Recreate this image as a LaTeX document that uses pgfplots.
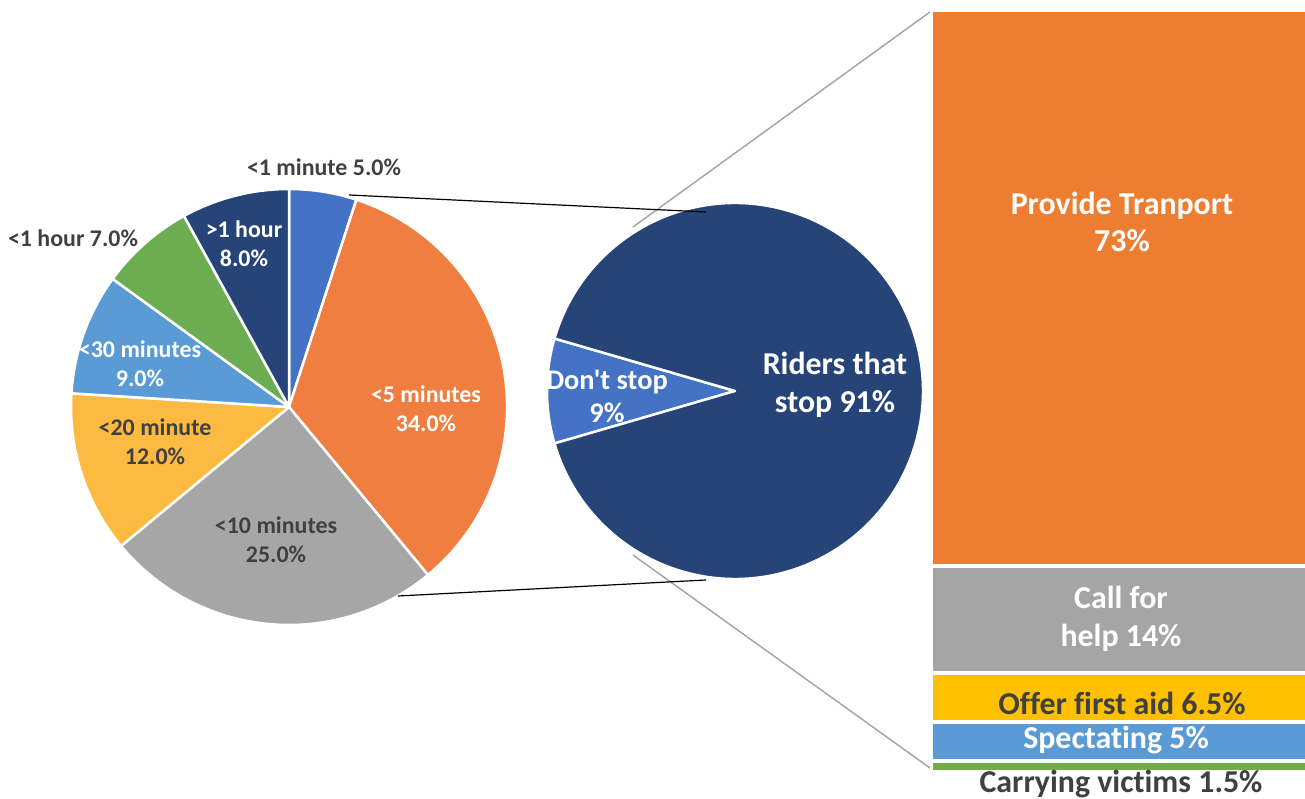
\documentclass[border=0pt]{standalone}
\usepackage{pgfplots}
\usepackage{pgfplotstable}
\pgfplotsset{compat=1.18}
\usepackage{fontspec}
\setmainfont{Carlito}
\newfontfamily\carl{Carlito}[Ligatures=NoCommon]
\definecolor{cBlue}{HTML}{4472C4}
\definecolor{cOrange}{HTML}{F07E40}
\definecolor{cGray}{HTML}{A6A6A6}
\definecolor{cGold}{HTML}{FDBA40}
\definecolor{cLBlue}{HTML}{5A9BD5}
\definecolor{cGreen}{HTML}{6DAD52}
\definecolor{cNavy}{HTML}{264478}
\definecolor{bOrange}{HTML}{ED7D31}
\definecolor{bGray}{HTML}{A5A5A5}
\definecolor{bGold}{HTML}{FFC000}
\definecolor{bGreen}{HTML}{70AD47}
\definecolor{bLBlue}{HTML}{5B9BD5}
\definecolor{txt}{HTML}{404040}
\definecolor{lead}{HTML}{A6A6A6}

% time until help (left pie), clockwise from 12 o'clock
\pgfplotstableread{
value color
5  cBlue
34 cOrange
25 cGray
12 cGold
9  cLBlue
7  cGreen
8  cNavy
}\timetable
% riders (right pie)
\pgfplotstableread{
value color
9  cBlue
91 cNavy
}\stoptable

\newcommand\pie[5]{% table, cx, cy, r, start angle
  \pgfplotstablegetrowsof{#1}%
  \pgfmathtruncatemacro\nrows{\pgfplotsretval-1}%
  \def\cum{0}%
  \pgfplotsforeachungrouped \i in {0,...,\nrows}{%
    \pgfplotstablegetelem{\i}{value}\of#1\let\v\pgfplotsretval
    \pgfplotstablegetelem{\i}{color}\of#1\let\c\pgfplotsretval
    \pgfmathsetmacro\aS{#5-3.6*\cum}%
    \pgfmathsetmacro\aE{#5-3.6*(\cum+\v)}%
    \edef\temp{\noexpand\fill[\c, draw=white, line width=2.5bp, line join=round]
      (axis cs:#2,#3) -- ++(\aS:#4bp) arc[start angle=\aS, end angle=\aE, radius=#4bp] -- cycle;}%
    \temp
    \pgfmathsetmacro\cum{\cum+\v}%
  }%
}

\begin{document}
\begin{tikzpicture}
\path[use as bounding box] (0,0) rectangle (1305bp,799bp);

% stacked bar
\begin{axis}[at={(931bp,27bp)}, anchor=south west,
  width=376bp, height=762bp, scale only axis,
  xmin=-0.5, xmax=0.5, ymin=0, ymax=100, hide axis,
  ybar stacked, bar width=376bp, clip=false]
\addplot[fill=bGreen, draw=white, line width=4bp] coordinates {(0,1.5)};
\addplot[fill=bLBlue, draw=white, line width=4bp] coordinates {(0,5)};
\addplot[fill=bGold, draw=white, line width=4bp] coordinates {(0,6.5)};
\addplot[fill=bGray, draw=white, line width=4bp] coordinates {(0,14)};
\addplot[fill=bOrange, draw=white, line width=4bp] coordinates {(0,73)};
\end{axis}

% pies, leader lines and labels
\begin{axis}[at={(0,0)}, anchor=south west,
  width=1305bp, height=799bp, scale only axis,
  xmin=0, xmax=1305, ymin=0, ymax=799, hide axis, clip=false]
\addplot[lead, line width=1.5bp] coordinates {(633,572) (930,787)};
\addplot[lead, line width=1.5bp] coordinates {(633,244) (930,31)};
\pie{\timetable}{289}{392}{218}{90}
\pie{\stoptable}{735}{408}{188}{196.2}
\addplot[black, line width=1.2bp] coordinates {(349,604) (706,587)};
\addplot[black, line width=1.2bp] coordinates {(398,203) (706,219)};

\tikzset{lbl/.style={font=\carl\bfseries\fontsize{24}{29}\selectfont, align=center, inner sep=0pt},
         big/.style={font=\carl\bfseries\fontsize{32}{38}\selectfont, align=center, inner sep=0pt}}
\node[lbl, txt] at (axis cs:324,632) {<1 minute 5.0\%};
\node[lbl, txt] at (axis cs:73,561) {<1 hour 7.0\%};
\node[lbl, white] at (axis cs:244,555.5) {>1 hour\\8.0\%};
\node[lbl, white] at (axis cs:140,435.5) {<30 minutes\\9.0\%};
\node[lbl, txt] at (axis cs:155,357) {<20 minute\\12.0\%};
\node[lbl, txt] at (axis cs:276,259.5) {<10 minutes\\25.0\%};
\node[lbl, white] at (axis cs:426,390.5) {<5 minutes\\34.0\%};
\node[font=\carl\bfseries\fontsize{28.5}{33}\selectfont, align=center, inner sep=0pt, white] at (axis cs:607,403) {Don't stop\\9\%};
\node[big, white] at (axis cs:835,414) {Riders that\\stop 91\%};
\node[big, white] at (axis cs:1122,577) {Provide Tranport\\73\%};
\node[big, white] at (axis cs:1121,180.5) {Call for\\help 14\%};
\node[big, txt] at (axis cs:1122,96) {Offer first aid 6.5\%};
\node[big, white] at (axis cs:1116,59) {Spectating 5\%};
\node[big, txt] at (axis cs:1121,15) {Carrying victims 1.5\%};
\end{axis}
\end{tikzpicture}
\end{document}
